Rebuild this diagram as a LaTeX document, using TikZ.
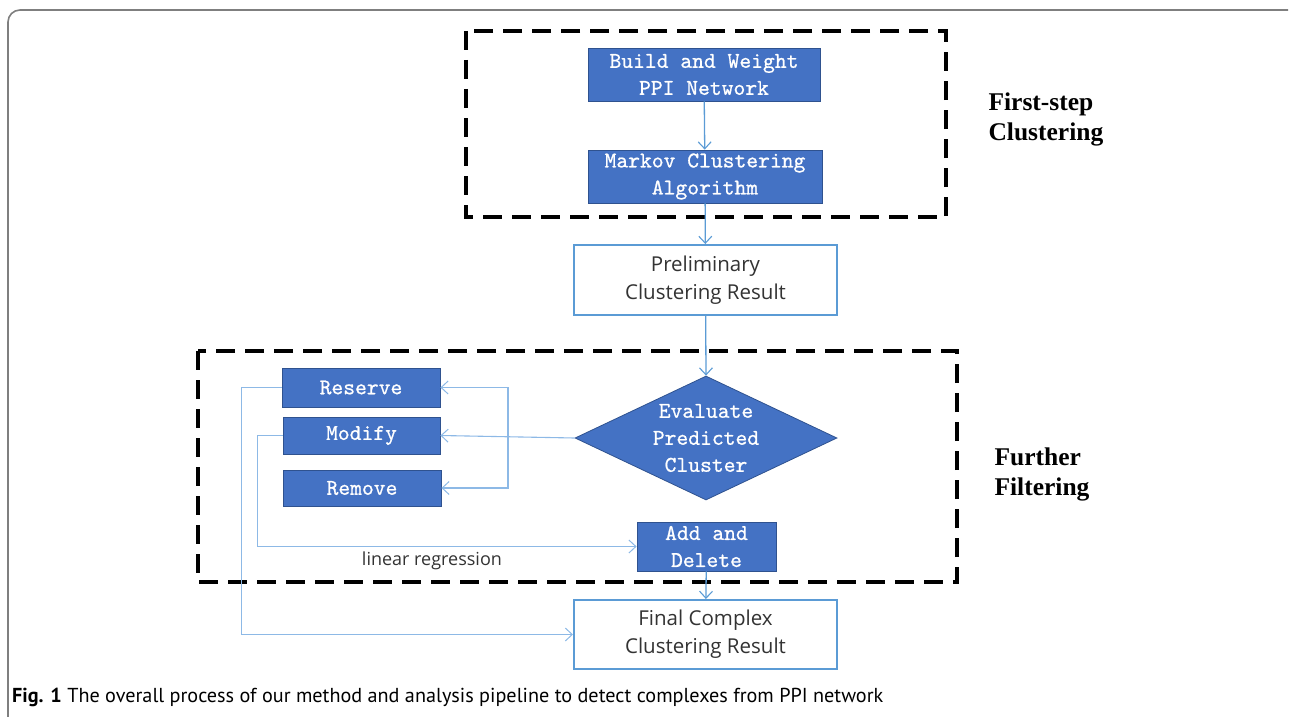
\documentclass[tikz,border=0pt]{standalone}
\usepackage{fontspec}
\usetikzlibrary{arrows.meta,shapes.geometric,calc}
\newfontfamily\uifont{Open Sans}
\newfontfamily\capfont{PT Sans}
\newfontfamily\tagfont{Liberation Serif}
\newfontfamily\boxfont{lmmono10-regular.otf}[FakeBold=0.8]
\definecolor{boxblue}{HTML}{4472C4}
\definecolor{edgeblue}{HTML}{2F528F}
\definecolor{lineblue}{HTML}{5B9BD5}
\definecolor{paleblue}{HTML}{8DB9E6}
\definecolor{framegray}{HTML}{7F7F7F}

\begin{document}
\begin{tikzpicture}[x=1pt,y=-1pt,
  stepbox/.style={draw=edgeblue,line width=.8pt,fill=boxblue,text=white,align=center,inner sep=0pt,
    font=\boxfont\fontsize{22.5}{27}\selectfont},
  resultbox/.style={draw=lineblue,line width=2pt,fill=white,text=black!80,align=center,inner sep=0pt,
    minimum width=263,minimum height=70,font=\uifont\fontsize{20.5}{28}\selectfont},
  stagebox/.style={draw,line width=3.5pt,dash pattern=on 19pt off 10pt},
  stagetag/.style={anchor=west,align=left,font=\tagfont\bfseries\fontsize{25.5}{30}\selectfont},
  flow/.style={draw=lineblue,line width=1.3pt,-{Straight Barb[length=7pt,width=13pt,line width=1.1pt]}},
  sideflow/.style={draw=paleblue,line width=1.1pt,-{Straight Barb[length=7pt,width=13pt,line width=1pt]}}]
\useasboundingbox (0,0) rectangle (1291,717);

% frame of the figure
\draw[framegray,line width=1.6pt,rounded corners=12pt] (8,717) -- (8,10) -- (1288,10);

% stage borders
\draw[stagebox] (466,31) rectangle (946,217);
\draw[stagebox] (198,351) rectangle (957,582);
\node[stagetag] (first) at (985,119) {First-step\\Clustering};
\node[stagetag] (further) at (991,474) {Further\\Filtering};

% first step
\node[stepbox,minimum width=232,minimum height=53] (build) at (704,74.5) {Build and Weight\\PPI Network};
\node[stepbox,minimum width=234,minimum height=53] (markov) at (705,176.5) {Markov Clustering\\Algorithm};
\node[resultbox] (prelim) at (705.5,280) {Preliminary\\Clustering Result};

% filtering
\node[draw=edgeblue,line width=.8pt,fill=boxblue,diamond,inner sep=0pt,minimum width=262,minimum height=124] (eval) at (706,438) {};
\node[text=white,align=center,font=\boxfont\fontsize{22.5}{27}\selectfont] at (eval) {Evaluate\\Predicted\\Cluster};
\node[stepbox,minimum width=158,minimum height=39] (reserve) at (361,387.5) {Reserve};
\node[stepbox,minimum width=157,minimum height=37] (modify) at (361.5,435.5) {Modify};
\node[stepbox,minimum width=158,minimum height=36] (remove) at (362,488) {Remove};
\node[stepbox,minimum width=139,minimum height=49] (adddel) at (706.5,546.5) {Add and\\Delete};
\node[resultbox,minimum height=69] (final) at (705.5,634.5) {Final Complex\\Clustering Result};

% connectors
\draw[flow] (build) -- (markov);
\draw[flow] (markov) -- (prelim);
\draw[flow] (prelim) -- (eval.north);
\draw[flow] (adddel) -- (final);
\coordinate (fork) at (508,435.5);
\draw[sideflow] (eval.west) -- (modify.east);
\draw[sideflow] (fork) |- (reserve.east);
\draw[sideflow] (fork) |- (remove.east);
\draw[sideflow] (modify.west) -- ++(-25,0) |- (adddel.west)
  node[pos=.73,below=1pt,text=black!80,font=\uifont\fontsize{18}{20}\selectfont] {linear regression};
\draw[sideflow] (reserve.west) -- ++(-40,0) |- (final.west);

% caption
\node[anchor=west,inner sep=0pt,font=\capfont\fontsize{20.2}{22}\selectfont] (caption) at (12,697)
  {\textbf{Fig. 1} The overall process of our method and analysis pipeline to detect complexes from PPI network};
\end{tikzpicture}
\end{document}
